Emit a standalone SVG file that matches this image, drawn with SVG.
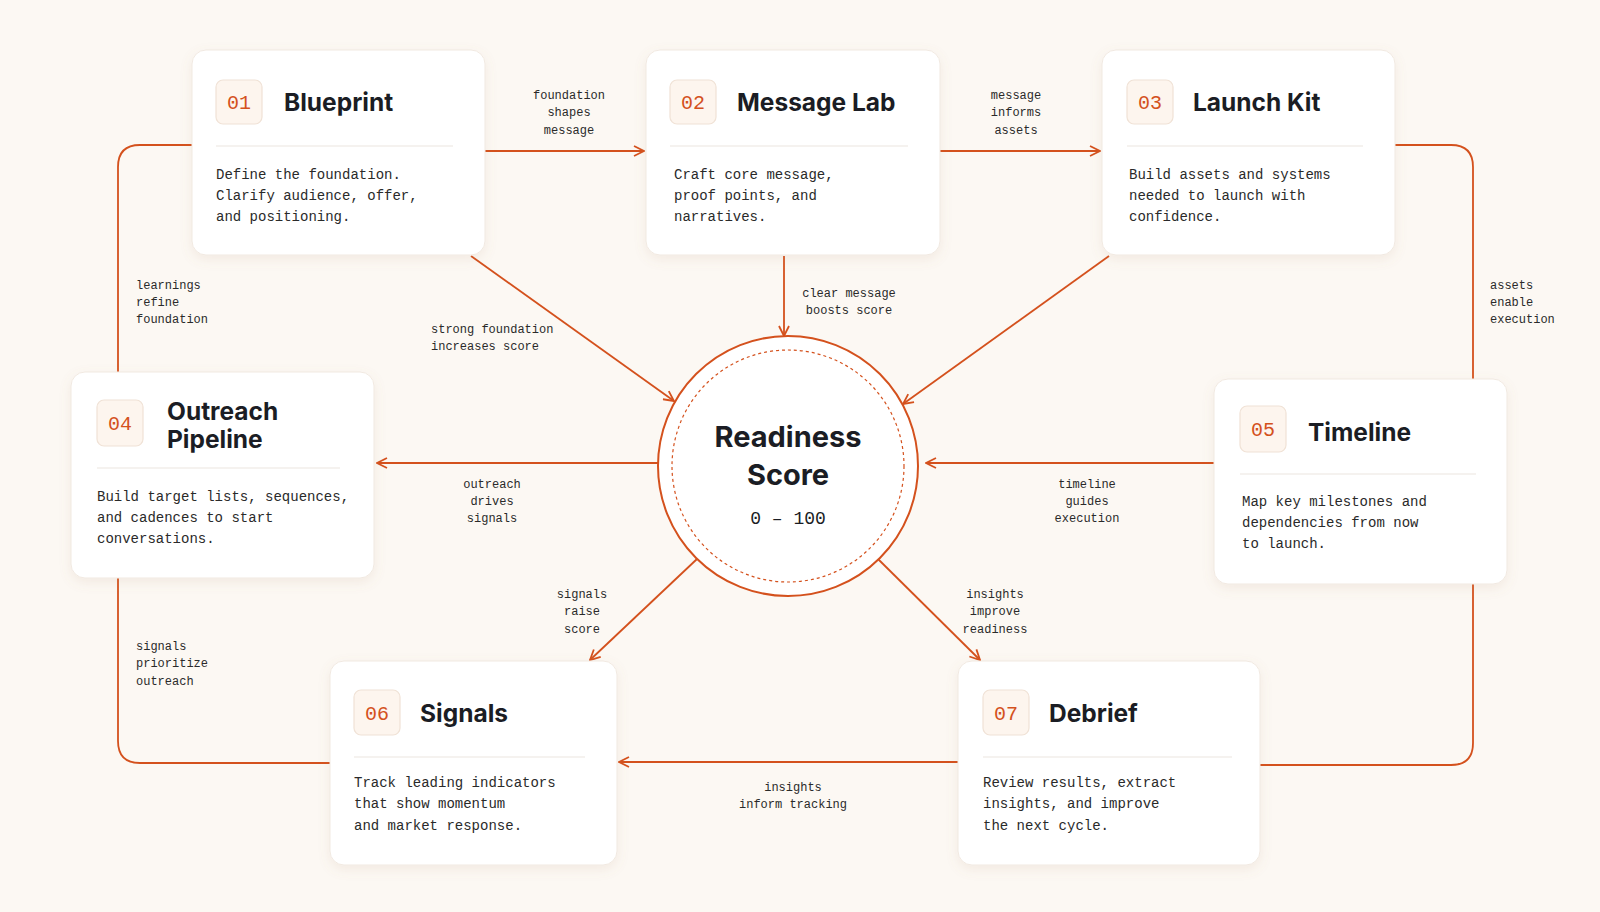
<svg xmlns="http://www.w3.org/2000/svg" width="1600" height="912" viewBox="0 0 1600 912">
<defs>
<style>
.card{fill:#fff;stroke:#f1e9e1;stroke-width:1}
.badge{fill:#fdf5ee;stroke:#f0e2d6;stroke-width:1.2}
.num{font-family:"Liberation Mono",monospace;font-size:20px;fill:#d4511d;text-anchor:middle}
.title{font-family:Inter,"Liberation Sans",sans-serif;font-size:24.5px;font-weight:700;fill:#1b1d24}
.div{stroke:#ece6e0;stroke-width:1.2}
.body{font-family:"Liberation Mono",monospace;font-size:14px;fill:#2a2a2a}
.lbl{font-family:"Liberation Mono",monospace;font-size:12px;fill:#2a2a2a;text-anchor:middle}
.lbll{font-family:"Liberation Mono",monospace;font-size:12px;fill:#2a2a2a}
.con{fill:none;stroke:#d4511d;stroke-width:1.8}
</style>
<marker id="ar" viewBox="0 0 12 12" refX="11" refY="6" markerWidth="12" markerHeight="12" markerUnits="userSpaceOnUse" orient="auto">
<path d="M1,1 L11,6 L1,11" fill="none" stroke="#d4511d" stroke-width="1.8"/>
</marker>
<filter id="sh" x="-10%" y="-10%" width="120%" height="130%">
<feDropShadow dx="0" dy="4" stdDeviation="6" flood-color="#b08060" flood-opacity="0.12"/>
</filter>
</defs>
<rect width="1600" height="912" fill="#fcf8f3"/>
<g id="connectors">
<path class="con" d="M485,151 H644" marker-end="url(#ar)"/>
<path class="con" d="M940,151 H1100" marker-end="url(#ar)"/>
<path class="con" d="M192,145 H140 Q118,145 118,167 V372"/>
<path class="con" d="M118,578 V741 Q118,763 140,763 H330"/>
<path class="con" d="M1395,145 H1451 Q1473,145 1473,167 V379"/>
<path class="con" d="M1473,584 V743 Q1473,765 1451,765 H1260"/>
<path class="con" d="M471,256 L674,401" marker-end="url(#ar)"/>
<path class="con" d="M784,256 V336" marker-end="url(#ar)"/>
<path class="con" d="M1109,256 L903,404" marker-end="url(#ar)"/>
<path class="con" d="M658,463 H377" marker-end="url(#ar)"/>
<path class="con" d="M1214,463 H926" marker-end="url(#ar)"/>
<path class="con" d="M697,559 L590,660" marker-end="url(#ar)"/>
<path class="con" d="M878,559 L980,660" marker-end="url(#ar)"/>
<path class="con" d="M958,762 H619" marker-end="url(#ar)"/>
<text class="lbl" x="569" y="99">foundation</text><text class="lbl" x="569" y="116">shapes</text><text class="lbl" x="569" y="134">message</text>
<text class="lbl" x="1016" y="99">message</text><text class="lbl" x="1016" y="116">informs</text><text class="lbl" x="1016" y="134">assets</text>
<text class="lbll" x="136" y="289">learnings</text><text class="lbll" x="136" y="306">refine</text><text class="lbll" x="136" y="323">foundation</text>
<text class="lbll" x="1490" y="289">assets</text><text class="lbll" x="1490" y="306">enable</text><text class="lbll" x="1490" y="323">execution</text>
<text class="lbll" x="136" y="650">signals</text><text class="lbll" x="136" y="667">prioritize</text><text class="lbll" x="136" y="685">outreach</text>
<text class="lbll" x="431" y="333">strong foundation</text><text class="lbll" x="431" y="350">increases score</text>
<text class="lbl" x="849" y="297">clear message</text><text class="lbl" x="849" y="314">boosts score</text>
<text class="lbl" x="492" y="488">outreach</text><text class="lbl" x="492" y="505">drives</text><text class="lbl" x="492" y="522">signals</text>
<text class="lbl" x="1087" y="488">timeline</text><text class="lbl" x="1087" y="505">guides</text><text class="lbl" x="1087" y="522">execution</text>
<text class="lbl" x="582" y="598">signals</text><text class="lbl" x="582" y="615">raise</text><text class="lbl" x="582" y="633">score</text>
<text class="lbl" x="995" y="598">insights</text><text class="lbl" x="995" y="615">improve</text><text class="lbl" x="995" y="633">readiness</text>
<text class="lbl" x="793" y="791">insights</text><text class="lbl" x="793" y="808">inform tracking</text>
</g>
<g id="score">
<circle cx="788" cy="466" r="130" fill="#fff" stroke="#d4511d" stroke-width="2"/>
<circle cx="788" cy="466" r="116" fill="none" stroke="#d4511d" stroke-width="1.2" stroke-dasharray="3,3"/>
<text x="788" y="447" text-anchor="middle" font-family="Inter,'Liberation Sans',sans-serif" font-size="29" font-weight="700" fill="#1b1d24">Readiness</text>
<text x="788" y="485" text-anchor="middle" font-family="Inter,'Liberation Sans',sans-serif" font-size="29" font-weight="700" fill="#1b1d24">Score</text>
<text x="788" y="524" text-anchor="middle" font-family="'Liberation Mono',monospace" font-size="18" fill="#1b1d24">0 – 100</text>
</g>
<g id="n01">
<rect class="card" filter="url(#sh)" x="192" y="50" width="293" height="205" rx="14"/>
<rect class="badge" x="216" y="80" width="46" height="44" rx="7"/><text class="num" x="239" y="109">01</text>
<text class="title" x="284" y="111">Blueprint</text>
<line class="div" x1="216" y1="146" x2="453" y2="146"/>
<text class="body" x="216" y="179">Define the foundation.</text><text class="body" x="216" y="200">Clarify audience, offer,</text><text class="body" x="216" y="221">and positioning.</text>
</g>
<g id="n02">
<rect class="card" filter="url(#sh)" x="646" y="50" width="294" height="205" rx="14"/>
<rect class="badge" x="670" y="80" width="46" height="44" rx="7"/><text class="num" x="693" y="109">02</text>
<text class="title" x="737" y="111">Message Lab</text>
<line class="div" x1="670" y1="146" x2="908" y2="146"/>
<text class="body" x="674" y="179">Craft core message,</text><text class="body" x="674" y="200">proof points, and</text><text class="body" x="674" y="221">narratives.</text>
</g>
<g id="n03">
<rect class="card" filter="url(#sh)" x="1102" y="50" width="293" height="205" rx="14"/>
<rect class="badge" x="1127" y="80" width="46" height="44" rx="7"/><text class="num" x="1150" y="109">03</text>
<text class="title" x="1193" y="111">Launch Kit</text>
<line class="div" x1="1127" y1="146" x2="1363" y2="146"/>
<text class="body" x="1129" y="179">Build assets and systems</text><text class="body" x="1129" y="200">needed to launch with</text><text class="body" x="1129" y="221">confidence.</text>
</g>
<g id="n04">
<rect class="card" filter="url(#sh)" x="71" y="372" width="303" height="206" rx="14"/>
<rect class="badge" x="97" y="400" width="46" height="46" rx="7"/><text class="num" x="120" y="430">04</text>
<text class="title" x="167" y="420">Outreach</text><text class="title" x="167" y="448">Pipeline</text>
<line class="div" x1="97" y1="468" x2="340" y2="468"/>
<text class="body" x="97" y="501">Build target lists, sequences,</text><text class="body" x="97" y="522">and cadences to start</text><text class="body" x="97" y="543">conversations.</text>
</g>
<g id="n05">
<rect class="card" filter="url(#sh)" x="1214" y="379" width="293" height="205" rx="14"/>
<rect class="badge" x="1240" y="406" width="46" height="46" rx="7"/><text class="num" x="1263" y="436">05</text>
<text class="title" x="1308" y="441">Timeline</text>
<line class="div" x1="1240" y1="474" x2="1476" y2="474"/>
<text class="body" x="1242" y="506">Map key milestones and</text><text class="body" x="1242" y="527">dependencies from now</text><text class="body" x="1242" y="548">to launch.</text>
</g>
<g id="n06">
<rect class="card" filter="url(#sh)" x="330" y="661" width="287" height="204" rx="14"/>
<rect class="badge" x="354" y="690" width="46" height="45" rx="7"/><text class="num" x="377" y="720">06</text>
<text class="title" x="420" y="722">Signals</text>
<line class="div" x1="354" y1="757" x2="585" y2="757"/>
<text class="body" x="354" y="787">Track leading indicators</text><text class="body" x="354" y="808">that show momentum</text><text class="body" x="354" y="830">and market response.</text>
</g>
<g id="n07">
<rect class="card" filter="url(#sh)" x="958" y="661" width="302" height="204" rx="14"/>
<rect class="badge" x="983" y="690" width="46" height="45" rx="7"/><text class="num" x="1006" y="720">07</text>
<text class="title" x="1049" y="722">Debrief</text>
<line class="div" x1="983" y1="757" x2="1232" y2="757"/>
<text class="body" x="983" y="787">Review results, extract</text><text class="body" x="983" y="808">insights, and improve</text><text class="body" x="983" y="830">the next cycle.</text>
</g>
</svg>
